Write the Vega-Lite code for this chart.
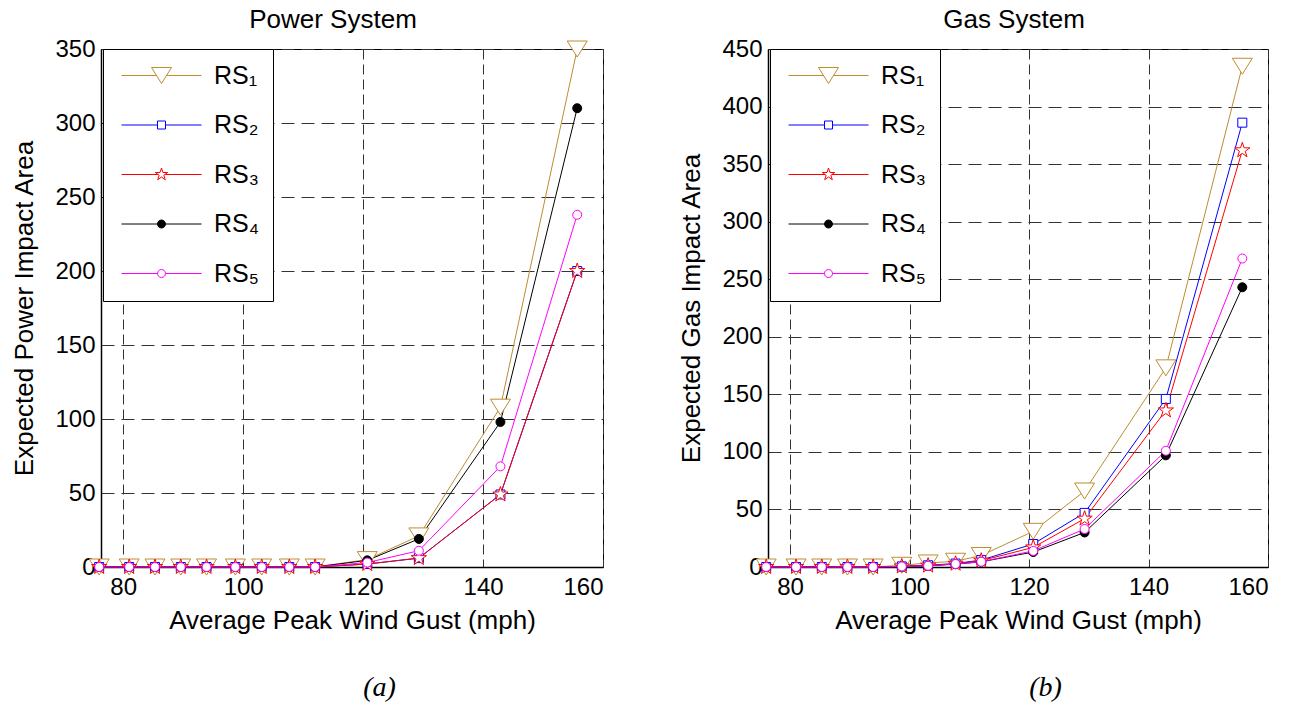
{
  "$schema": "https://vega.github.io/schema/vega-lite/v6.json",
  "padding": {"left": 11, "top": 6, "right": 0, "bottom": 0},
  "background": "white",
  "datasets": {
    "power": [
      {"s": "RS₁", "x": 76, "y": 0}, {"s": "RS₁", "x": 81, "y": 0}, {"s": "RS₁", "x": 85.3, "y": 0}, {"s": "RS₁", "x": 89.6, "y": 0}, {"s": "RS₁", "x": 93.9, "y": 0}, {"s": "RS₁", "x": 98.7, "y": 0}, {"s": "RS₁", "x": 103.1, "y": 0}, {"s": "RS₁", "x": 107.7, "y": 0}, {"s": "RS₁", "x": 112, "y": 0}, {"s": "RS₁", "x": 120.7, "y": 5}, {"s": "RS₁", "x": 129.3, "y": 21}, {"s": "RS₁", "x": 142.9, "y": 108}, {"s": "RS₁", "x": 155.7, "y": 350},
      {"s": "RS₂", "x": 76, "y": 0}, {"s": "RS₂", "x": 81, "y": 0}, {"s": "RS₂", "x": 85.3, "y": 0}, {"s": "RS₂", "x": 89.6, "y": 0}, {"s": "RS₂", "x": 93.9, "y": 0}, {"s": "RS₂", "x": 98.7, "y": 0}, {"s": "RS₂", "x": 103.1, "y": 0}, {"s": "RS₂", "x": 107.7, "y": 0}, {"s": "RS₂", "x": 112, "y": 0}, {"s": "RS₂", "x": 120.7, "y": 2}, {"s": "RS₂", "x": 129.3, "y": 6}, {"s": "RS₂", "x": 142.9, "y": 49}, {"s": "RS₂", "x": 155.7, "y": 200},
      {"s": "RS₃", "x": 76, "y": 0}, {"s": "RS₃", "x": 81, "y": 0}, {"s": "RS₃", "x": 85.3, "y": 0}, {"s": "RS₃", "x": 89.6, "y": 0}, {"s": "RS₃", "x": 93.9, "y": 0}, {"s": "RS₃", "x": 98.7, "y": 0}, {"s": "RS₃", "x": 103.1, "y": 0}, {"s": "RS₃", "x": 107.7, "y": 0}, {"s": "RS₃", "x": 112, "y": 0}, {"s": "RS₃", "x": 120.7, "y": 2}, {"s": "RS₃", "x": 129.3, "y": 6}, {"s": "RS₃", "x": 142.9, "y": 49}, {"s": "RS₃", "x": 155.7, "y": 200},
      {"s": "RS₄", "x": 76, "y": 0}, {"s": "RS₄", "x": 81, "y": 0}, {"s": "RS₄", "x": 85.3, "y": 0}, {"s": "RS₄", "x": 89.6, "y": 0}, {"s": "RS₄", "x": 93.9, "y": 0}, {"s": "RS₄", "x": 98.7, "y": 0}, {"s": "RS₄", "x": 103.1, "y": 0}, {"s": "RS₄", "x": 107.7, "y": 0}, {"s": "RS₄", "x": 112, "y": 0}, {"s": "RS₄", "x": 120.7, "y": 4.5}, {"s": "RS₄", "x": 129.3, "y": 19}, {"s": "RS₄", "x": 142.9, "y": 98}, {"s": "RS₄", "x": 155.7, "y": 310},
      {"s": "RS₅", "x": 76, "y": 0}, {"s": "RS₅", "x": 81, "y": 0}, {"s": "RS₅", "x": 85.3, "y": 0}, {"s": "RS₅", "x": 89.6, "y": 0}, {"s": "RS₅", "x": 93.9, "y": 0}, {"s": "RS₅", "x": 98.7, "y": 0}, {"s": "RS₅", "x": 103.1, "y": 0}, {"s": "RS₅", "x": 107.7, "y": 0}, {"s": "RS₅", "x": 112, "y": 0}, {"s": "RS₅", "x": 120.7, "y": 3}, {"s": "RS₅", "x": 129.3, "y": 11}, {"s": "RS₅", "x": 142.9, "y": 68}, {"s": "RS₅", "x": 155.7, "y": 238}
    ],
    "gas": [
      {"s": "RS₁", "x": 76, "y": 0}, {"s": "RS₁", "x": 81, "y": 0}, {"s": "RS₁", "x": 85.3, "y": 0}, {"s": "RS₁", "x": 89.6, "y": 0}, {"s": "RS₁", "x": 93.9, "y": 0}, {"s": "RS₁", "x": 98.7, "y": 1.5}, {"s": "RS₁", "x": 103.1, "y": 3.5}, {"s": "RS₁", "x": 107.7, "y": 5}, {"s": "RS₁", "x": 112, "y": 10}, {"s": "RS₁", "x": 120.7, "y": 31}, {"s": "RS₁", "x": 129.3, "y": 66}, {"s": "RS₁", "x": 142.9, "y": 173}, {"s": "RS₁", "x": 155.7, "y": 435},
      {"s": "RS₂", "x": 76, "y": 0}, {"s": "RS₂", "x": 81, "y": 0}, {"s": "RS₂", "x": 85.3, "y": 0}, {"s": "RS₂", "x": 89.6, "y": 0}, {"s": "RS₂", "x": 93.9, "y": 0}, {"s": "RS₂", "x": 98.7, "y": 0.5}, {"s": "RS₂", "x": 103.1, "y": 1.5}, {"s": "RS₂", "x": 107.7, "y": 3}, {"s": "RS₂", "x": 112, "y": 6}, {"s": "RS₂", "x": 120.7, "y": 20}, {"s": "RS₂", "x": 129.3, "y": 47}, {"s": "RS₂", "x": 142.9, "y": 146}, {"s": "RS₂", "x": 155.7, "y": 386},
      {"s": "RS₃", "x": 76, "y": 0}, {"s": "RS₃", "x": 81, "y": 0}, {"s": "RS₃", "x": 85.3, "y": 0}, {"s": "RS₃", "x": 89.6, "y": 0}, {"s": "RS₃", "x": 93.9, "y": 0}, {"s": "RS₃", "x": 98.7, "y": 0.5}, {"s": "RS₃", "x": 103.1, "y": 1.2}, {"s": "RS₃", "x": 107.7, "y": 2.8}, {"s": "RS₃", "x": 112, "y": 5.5}, {"s": "RS₃", "x": 120.7, "y": 17}, {"s": "RS₃", "x": 129.3, "y": 42}, {"s": "RS₃", "x": 142.9, "y": 136}, {"s": "RS₃", "x": 155.7, "y": 362},
      {"s": "RS₄", "x": 76, "y": 0}, {"s": "RS₄", "x": 81, "y": 0}, {"s": "RS₄", "x": 85.3, "y": 0}, {"s": "RS₄", "x": 89.6, "y": 0}, {"s": "RS₄", "x": 93.9, "y": 0}, {"s": "RS₄", "x": 98.7, "y": 0.4}, {"s": "RS₄", "x": 103.1, "y": 1}, {"s": "RS₄", "x": 107.7, "y": 2.5}, {"s": "RS₄", "x": 112, "y": 4.5}, {"s": "RS₄", "x": 120.7, "y": 13}, {"s": "RS₄", "x": 129.3, "y": 30}, {"s": "RS₄", "x": 142.9, "y": 97}, {"s": "RS₄", "x": 155.7, "y": 243},
      {"s": "RS₅", "x": 76, "y": 0}, {"s": "RS₅", "x": 81, "y": 0}, {"s": "RS₅", "x": 85.3, "y": 0}, {"s": "RS₅", "x": 89.6, "y": 0}, {"s": "RS₅", "x": 93.9, "y": 0}, {"s": "RS₅", "x": 98.7, "y": 0.5}, {"s": "RS₅", "x": 103.1, "y": 1.1}, {"s": "RS₅", "x": 107.7, "y": 2.6}, {"s": "RS₅", "x": 112, "y": 4.6}, {"s": "RS₅", "x": 120.7, "y": 14}, {"s": "RS₅", "x": 129.3, "y": 33}, {"s": "RS₅", "x": 142.9, "y": 101}, {"s": "RS₅", "x": 155.7, "y": 268}
    ]
  },
  "config": {
    "font": "Liberation Sans",
    "view": {"stroke": "#000", "strokeWidth": 1},
    "axis": {"labelFont": "Liberation Sans", "labelFontSize": 24, "labelColor": "#000", "titleFont": "Liberation Sans", "titleFontSize": 26, "titleFontWeight": "normal", "titleColor": "#000", "ticks": false, "domainColor": "#000", "domainWidth": 1.5, "grid": true, "gridColor": "#333", "gridOpacity": 1, "gridWidth": 1},
    "axisX": {"gridDash": [10, 5], "labelPadding": 8, "titlePadding": 8},
    "axisY": {"gridDash": [13, 7], "labelPadding": 6, "titlePadding": 17},
    "title": {"font": "Liberation Sans", "fontSize": 26, "fontWeight": "normal", "color": "#000"},
    "legend": {"orient": "none", "legendX": 2, "legendY": 0, "padding": 14, "strokeColor": "#000", "fillColor": "#fff", "symbolSize": 400, "symbolStrokeWidth": 1, "symbolOffset": 32, "labelOffset": 40, "labelFont": "Liberation Sans", "labelFontSize": 25, "labelColor": "#000", "rowPadding": 23.5}
  },
  "spacing": 74,
  "hconcat": [
    {
      "title": {"text": "(a)", "orient": "bottom", "anchor": "middle", "font": "Liberation Serif", "fontStyle": "italic", "fontSize": 28, "fontWeight": "normal", "offset": 40, "dx": 72},
      "vconcat": [
        {
          "title": {"text": "Power System", "frame": "group", "dx": -19, "offset": 4},
          "width": 502,
          "height": 518,
          "data": {"name": "power"},
          "encoding": {
            "x": {"field": "x", "type": "quantitative", "scale": {"domain": [76.3, 160], "nice": false, "zero": false}, "axis": {"values": [80, 100, 120, 140, 160], "title": "Average Peak Wind Gust (mph)"}},
            "y": {"field": "y", "type": "quantitative", "scale": {"domain": [0, 350], "nice": false}, "axis": {"values": [0, 50, 100, 150, 200, 250, 300, 350], "title": "Expected Power Impact Area"}}
          },
          "layer": [
            {
              "mark": {"type": "line", "strokeWidth": 1},
              "encoding": {
                "stroke": {"field": "s", "type": "nominal", "scale": {"domain": ["RS₁", "RS₂", "RS₃", "RS₄", "RS₅"], "range": ["#BF8C30", "#0000FF", "#FF0000", "#000000", "#FF00FF"]}, "legend": null}
              }
            },
            {
              "mark": {"type": "point", "size": 400, "strokeWidth": 1, "opacity": 1},
              "encoding": {
                "stroke": {"field": "s", "type": "nominal", "scale": {"domain": ["RS₁", "RS₂", "RS₃", "RS₄", "RS₅"], "range": ["#BF8C30", "#0000FF", "#FF0000", "#000000", "#FF00FF"]}, "legend": null},
                "fill": {"field": "s", "type": "nominal", "scale": {"domain": ["RS₁", "RS₂", "RS₃", "RS₄", "RS₅"], "range": ["#FFFFFF", "#FFFFFF", "#FFFFFF", "#000000", "#FFFFFF"]}, "legend": null},
                "shape": {"field": "s", "type": "nominal", "scale": {"domain": ["RS₁", "RS₂", "RS₃", "RS₄", "RS₅"], "range": ["M-1,-0.8L1,-0.8L0,0.8Z", "M-0.45,-0.45H0.45V0.45H-0.45Z", "M0,-0.8L0.18,-0.248L0.761,-0.247L0.291,0.095L0.47,0.647L0,0.306L-0.47,0.647L-0.291,0.095L-0.761,-0.247L-0.18,-0.248Z", "M-0.45,0A0.45,0.45,0,1,0,0.45,0A0.45,0.45,0,1,0,-0.45,0Z", "M-0.45,0A0.45,0.45,0,1,0,0.45,0A0.45,0.45,0,1,0,-0.45,0Z"]}, "legend": null}
              }
            },
            {
              "transform": [{"filter": "datum.x < 0"}],
              "mark": {"type": "point", "size": 400, "strokeWidth": 1, "opacity": 1},
              "encoding": {
                "stroke": {"field": "s", "type": "nominal", "scale": {"domain": ["RS₁", "RS₂", "RS₃", "RS₄", "RS₅"], "range": ["#BF8C30", "#0000FF", "#FF0000", "#000000", "#FF00FF"]}, "legend": {"title": null}},
                "fill": {"field": "s", "type": "nominal", "scale": {"domain": ["RS₁", "RS₂", "RS₃", "RS₄", "RS₅"], "range": ["#FFFFFF", "#FFFFFF", "#FFFFFF", "#000000", "#FFFFFF"]}, "legend": {"title": null}},
                "shape": {"field": "s", "type": "nominal", "scale": {"domain": ["RS₁", "RS₂", "RS₃", "RS₄", "RS₅"], "range": ["M-4,0H-0.5M0.5,0H4M-1,-0.8L1,-0.8L0,0.8Z", "M-4,0H-0.4M0.4,0H4M-0.4,-0.4H0.4V0.4H-0.4Z", "M-4,0H-0.342M0.342,0H4M0,-0.65L0.146,-0.2015L0.618,-0.2007L0.236,0.077L0.382,0.526L0,0.249L-0.382,0.526L-0.236,0.077L-0.618,-0.2007L-0.146,-0.2015Z", "M-4,0H-0.4M0.4,0H4M-0.4,0A0.4,0.4,0,1,0,0.4,0A0.4,0.4,0,1,0,-0.4,0Z", "M-4,0H-0.4M0.4,0H4M-0.4,0A0.4,0.4,0,1,0,0.4,0A0.4,0.4,0,1,0,-0.4,0Z"]}, "legend": {"title": null}}
              }
            }
          ],
          "resolve": {"scale": {"stroke": "independent", "fill": "independent", "shape": "independent"}}
        }
      ]
    },
    {
      "title": {"text": "(b)", "orient": "bottom", "anchor": "middle", "font": "Liberation Serif", "fontStyle": "italic", "fontSize": 28, "fontWeight": "normal", "offset": 40, "dx": 72},
      "vconcat": [
        {
          "title": {"text": "Gas System", "frame": "group", "dx": -4, "offset": 4},
          "width": 500,
          "height": 518,
          "data": {"name": "gas"},
          "encoding": {
            "x": {"field": "x", "type": "quantitative", "scale": {"domain": [76.3, 160], "nice": false, "zero": false}, "axis": {"values": [80, 100, 120, 140, 160], "title": "Average Peak Wind Gust (mph)"}},
            "y": {"field": "y", "type": "quantitative", "scale": {"domain": [0, 450], "nice": false}, "axis": {"values": [0, 50, 100, 150, 200, 250, 300, 350, 400, 450], "title": "Expected Gas Impact Area"}}
          },
          "layer": [
            {
              "mark": {"type": "line", "strokeWidth": 1},
              "encoding": {
                "stroke": {"field": "s", "type": "nominal", "scale": {"domain": ["RS₁", "RS₂", "RS₃", "RS₄", "RS₅"], "range": ["#BF8C30", "#0000FF", "#FF0000", "#000000", "#FF00FF"]}, "legend": null}
              }
            },
            {
              "mark": {"type": "point", "size": 400, "strokeWidth": 1, "opacity": 1},
              "encoding": {
                "stroke": {"field": "s", "type": "nominal", "scale": {"domain": ["RS₁", "RS₂", "RS₃", "RS₄", "RS₅"], "range": ["#BF8C30", "#0000FF", "#FF0000", "#000000", "#FF00FF"]}, "legend": null},
                "fill": {"field": "s", "type": "nominal", "scale": {"domain": ["RS₁", "RS₂", "RS₃", "RS₄", "RS₅"], "range": ["#FFFFFF", "#FFFFFF", "#FFFFFF", "#000000", "#FFFFFF"]}, "legend": null},
                "shape": {"field": "s", "type": "nominal", "scale": {"domain": ["RS₁", "RS₂", "RS₃", "RS₄", "RS₅"], "range": ["M-1,-0.8L1,-0.8L0,0.8Z", "M-0.45,-0.45H0.45V0.45H-0.45Z", "M0,-0.8L0.18,-0.248L0.761,-0.247L0.291,0.095L0.47,0.647L0,0.306L-0.47,0.647L-0.291,0.095L-0.761,-0.247L-0.18,-0.248Z", "M-0.45,0A0.45,0.45,0,1,0,0.45,0A0.45,0.45,0,1,0,-0.45,0Z", "M-0.45,0A0.45,0.45,0,1,0,0.45,0A0.45,0.45,0,1,0,-0.45,0Z"]}, "legend": null}
              }
            },
            {
              "transform": [{"filter": "datum.x < 0"}],
              "mark": {"type": "point", "size": 400, "strokeWidth": 1, "opacity": 1},
              "encoding": {
                "stroke": {"field": "s", "type": "nominal", "scale": {"domain": ["RS₁", "RS₂", "RS₃", "RS₄", "RS₅"], "range": ["#BF8C30", "#0000FF", "#FF0000", "#000000", "#FF00FF"]}, "legend": {"title": null}},
                "fill": {"field": "s", "type": "nominal", "scale": {"domain": ["RS₁", "RS₂", "RS₃", "RS₄", "RS₅"], "range": ["#FFFFFF", "#FFFFFF", "#FFFFFF", "#000000", "#FFFFFF"]}, "legend": {"title": null}},
                "shape": {"field": "s", "type": "nominal", "scale": {"domain": ["RS₁", "RS₂", "RS₃", "RS₄", "RS₅"], "range": ["M-4,0H-0.5M0.5,0H4M-1,-0.8L1,-0.8L0,0.8Z", "M-4,0H-0.4M0.4,0H4M-0.4,-0.4H0.4V0.4H-0.4Z", "M-4,0H-0.342M0.342,0H4M0,-0.65L0.146,-0.2015L0.618,-0.2007L0.236,0.077L0.382,0.526L0,0.249L-0.382,0.526L-0.236,0.077L-0.618,-0.2007L-0.146,-0.2015Z", "M-4,0H-0.4M0.4,0H4M-0.4,0A0.4,0.4,0,1,0,0.4,0A0.4,0.4,0,1,0,-0.4,0Z", "M-4,0H-0.4M0.4,0H4M-0.4,0A0.4,0.4,0,1,0,0.4,0A0.4,0.4,0,1,0,-0.4,0Z"]}, "legend": {"title": null}}
              }
            }
          ],
          "resolve": {"scale": {"stroke": "independent", "fill": "independent", "shape": "independent"}}
        }
      ]
    }
  ]
}
